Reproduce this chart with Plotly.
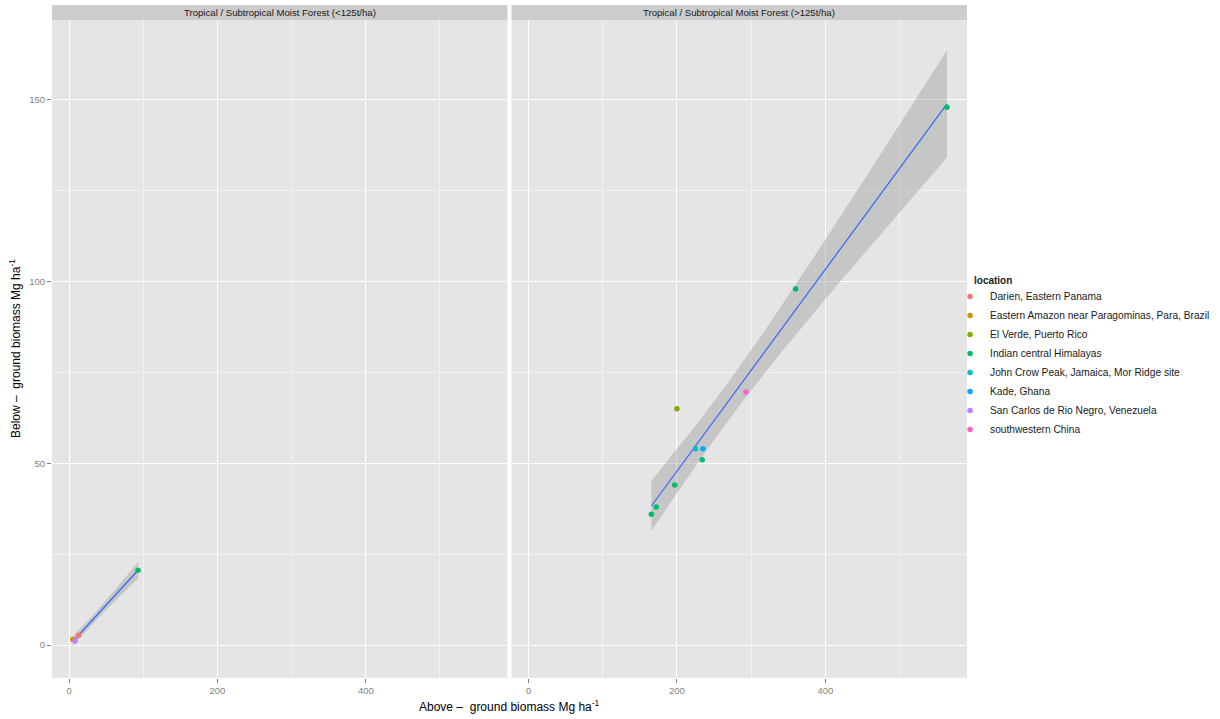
import numpy as np
import plotly.graph_objects as go

# ---- data ----
locations = [
    "Darien, Eastern Panama",
    "Eastern Amazon near Paragominas, Para, Brazil",
    "El Verde, Puerto Rico",
    "Indian central Himalayas",
    "John Crow Peak, Jamaica, Mor Ridge site",
    "Kade, Ghana",
    "San Carlos de Rio Negro, Venezuela",
    "southwestern China",
]
colors = ["#F8766D", "#CD9600", "#7CAE00", "#00BE67",
          "#00BFC4", "#00A9FF", "#C77CFF", "#FF61CC"]

panels = ["Tropical / Subtropical Moist Forest (<125t/ha)",
          "Tropical / Subtropical Moist Forest (>125t/ha)"]

# panel 1 (<125 t/ha)
p1_loc = ["Darien, Eastern Panama",
          "Eastern Amazon near Paragominas, Para, Brazil",
          "San Carlos de Rio Negro, Venezuela",
          "Indian central Himalayas"]
p1_above = [13, 5, 8, 93]
p1_below = [2.7, 1.5, 1.1, 20.6]

# panel 2 (>125 t/ha)
p2_loc = ["El Verde, Puerto Rico",
          "southwestern China",
          "John Crow Peak, Jamaica, Mor Ridge site",
          "Kade, Ghana",
          "Indian central Himalayas",
          "Indian central Himalayas",
          "Indian central Himalayas",
          "Indian central Himalayas",
          "Indian central Himalayas",
          "Indian central Himalayas"]
p2_above = [200, 293, 225, 235, 234, 197, 172, 165.5, 360, 564]
p2_below = [65, 69.6, 54, 54, 51, 44, 38, 36, 98, 148]

# Student t 0.975 quantiles for the fitted band (df = n - 2)
t975 = {2: 4.303, 8: 2.306}

x_ticks = [0, 200, 400]
x_minor = [-100, 100, 300, 500]
y_ticks = [0, 50, 100, 150]
y_minor = [25, 75, 125]

GRID = "white"
PANEL_BG = "#E5E5E5"
STRIP_BG = "#CCCCCC"
FONT = "Liberation Sans, Arial, sans-serif"


def lm_band(x, y, n_out=80):
    x = np.asarray(x, float)
    y = np.asarray(y, float)
    n = len(x)
    b1, b0 = np.polyfit(x, y, 1)
    resid = y - (b0 + b1 * x)
    s = np.sqrt(np.sum(resid ** 2) / (n - 2))
    xm = x.mean()
    sxx = np.sum((x - xm) ** 2)
    xs = np.linspace(x.min(), x.max(), n_out)
    fit = b0 + b1 * xs
    se = s * np.sqrt(1.0 / n + (xs - xm) ** 2 / sxx)
    t = t975[n - 2]
    return xs, fit, fit - t * se, fit + t * se


fig = go.Figure()

panel_data = [(p1_loc, p1_above, p1_below, "x", "y"),
              (p2_loc, p2_above, p2_below, "x2", "y2")]

# smoothing ribbons and fitted lines
for locs, xa, yb, xr, yr in panel_data:
    xs, fit, lo, hi = lm_band(xa, yb)
    fig.add_trace(go.Scatter(
        x=np.concatenate([xs, xs[::-1]]), y=np.concatenate([hi, lo[::-1]]),
        fill="toself", fillcolor="rgba(153,153,153,0.4)",
        line=dict(width=0), mode="lines", hoverinfo="skip",
        showlegend=False, xaxis=xr, yaxis=yr))
    fig.add_trace(go.Scatter(
        x=xs, y=fit, mode="lines", line=dict(color="#3366FF", width=1.2),
        showlegend=False, xaxis=xr, yaxis=yr))

# points, one trace per location and panel
for loc, col in zip(locations, colors):
    shown = False
    for locs, xa, yb, xr, yr in panel_data:
        xx = [a for l, a in zip(locs, xa) if l == loc]
        yy = [b for l, b in zip(locs, yb) if l == loc]
        if not xx:
            continue
        fig.add_trace(go.Scatter(
            x=xx, y=yy, mode="markers", name=loc, legendgroup=loc,
            showlegend=not shown,
            marker=dict(color=col, size=5.5, line=dict(width=0)),
            xaxis=xr, yaxis=yr))
        shown = True

plot_top = 0.9777
gap = 0.0022
axis_common = dict(
    showgrid=True, gridcolor=GRID, gridwidth=1.3,
    zeroline=False, showline=False,
    ticks="outside", ticklen=4, tickcolor="#7F7F7F", tickwidth=1,
    tickfont=dict(size=9.5, color="#7F7F7F", family=FONT),
)
x_minor_grid = dict(tickmode="array", tickvals=x_minor, showgrid=True,
                    gridcolor="#F2F2F2", gridwidth=0.7, ticks="")
y_minor_grid = dict(tickmode="array", tickvals=y_minor, showgrid=True,
                    gridcolor="#F2F2F2", gridwidth=0.7, ticks="")

fig.update_layout(
    width=1220, height=719,
    margin=dict(l=52, r=250, t=5, b=41),
    paper_bgcolor="white", plot_bgcolor=PANEL_BG,
    font=dict(family=FONT, color="#1A1A1A"),
    xaxis=dict(domain=[0, 0.5 - gap], range=[-23, 591], tickvals=x_ticks,
               anchor="y", minor=x_minor_grid, **axis_common),
    xaxis2=dict(domain=[0.5 + gap, 1], range=[-23, 591], tickvals=x_ticks,
                anchor="y2", minor=x_minor_grid, **axis_common),
    yaxis=dict(domain=[0, plot_top], range=[-9.08, 172], tickvals=y_ticks,
               anchor="x", minor=y_minor_grid, **axis_common),
    yaxis2=dict(domain=[0, plot_top], range=[-9.08, 172], tickvals=y_ticks,
                anchor="x2", matches="y", minor=y_minor_grid,
                **{**axis_common, "ticks": "", "showticklabels": False}),
    legend=dict(
        font=dict(size=10.2, color="#1A1A1A", family=FONT),
        x=(953 - 52) / 918, xanchor="left",
        y=(678 - 282) / 673, yanchor="top",
        bgcolor="rgba(255,255,255,0)", tracegroupgap=0,
    ),
    showlegend=True,
)

shapes = []
annotations = []
for i, (d0, d1) in enumerate([(0, 0.5 - gap), (0.5 + gap, 1)]):
    shapes.append(dict(type="rect", xref="paper", yref="paper",
                       x0=d0, x1=d1, y0=plot_top, y1=1,
                       fillcolor=STRIP_BG, line=dict(width=0), layer="below"))
    annotations.append(dict(text=panels[i], xref="paper", yref="paper",
                            x=(d0 + d1) / 2, y=(plot_top + 1) / 2,
                            xanchor="center", yanchor="middle", showarrow=False,
                            font=dict(size=9.6, color="#1A1A1A", family=FONT)))

# legend heading
annotations.append(dict(text="<b>location</b>", xref="paper", yref="paper",
                        x=(975 - 52) / 918, y=(678 - 280) / 673,
                        xanchor="left", yanchor="middle", showarrow=False,
                        font=dict(size=10, color="#1A1A1A", family=FONT)))

annotations.append(dict(text="Above \u2013  ground biomass Mg ha<sup>-1</sup>",
                        xref="paper", yref="paper", x=0.5, y=0,
                        yshift=-18, xanchor="center", yanchor="top",
                        showarrow=False,
                        font=dict(size=12, color="black", family=FONT)))
annotations.append(dict(text="Below \u2013  ground biomass Mg ha<sup>-1</sup>",
                        xref="paper", yref="paper", x=0, y=plot_top / 2,
                        xshift=-27, xanchor="right", yanchor="middle",
                        textangle=-90, showarrow=False,
                        font=dict(size=12, color="black", family=FONT)))

fig.update_layout(shapes=shapes, annotations=annotations)

fig.write_html("out.html")
